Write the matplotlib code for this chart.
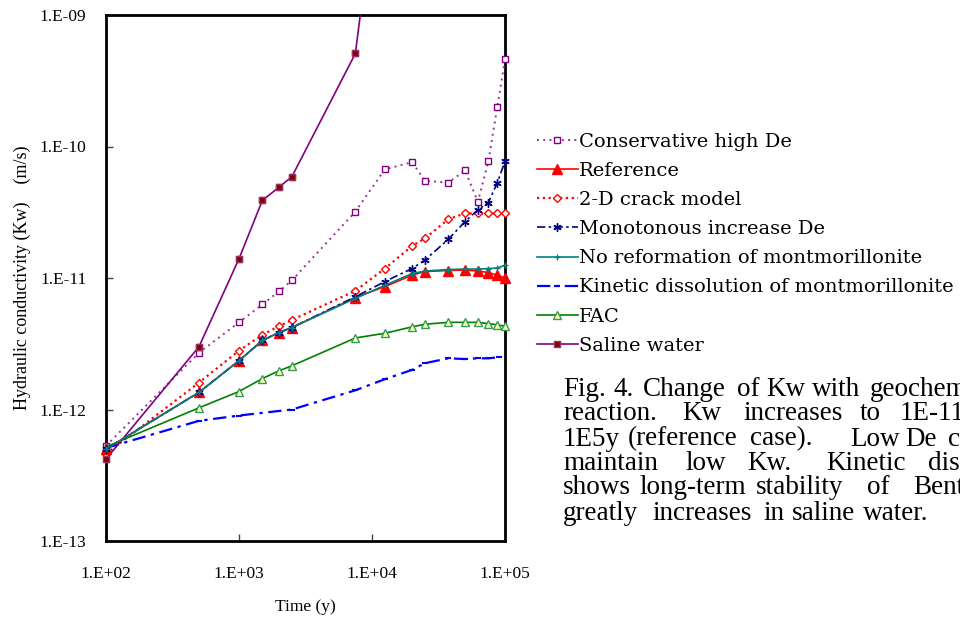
import matplotlib
matplotlib.use("Agg")
import matplotlib.pyplot as plt
import numpy as np

# time points (y)
t = [100, 500, 1000, 1500, 2000, 2500, 7500, 12500, 20000, 25000,
     37500, 50000, 62500, 75000, 87500, 100000]

conservative = [5.3e-13, 2.7e-12, 4.6e-12, 6.3e-12, 7.9e-12, 9.6e-12, 3.2e-11, 6.7e-11,
                7.6e-11, 5.5e-11, 5.3e-11, 6.6e-11, 3.8e-11, 7.7e-11, 2.0e-10, 4.6e-10]
reference = [5.0e-13, 1.35e-12, 2.35e-12, 3.35e-12, 3.85e-12, 4.2e-12, 7.1e-12, 8.6e-12,
             1.05e-11, 1.12e-11, 1.14e-11, 1.15e-11, 1.13e-11, 1.1e-11, 1.05e-11, 1.0e-11]
crack2d = [4.6e-13, 1.6e-12, 2.8e-12, 3.7e-12, 4.3e-12, 4.8e-12, 8.0e-12, 1.18e-11,
           1.75e-11, 2.0e-11, 2.8e-11, 3.1e-11, 3.1e-11, 3.1e-11, 3.1e-11, 3.1e-11]
monotonous = [5.0e-13, 1.35e-12, 2.35e-12, 3.35e-12, 3.85e-12, 4.2e-12, 7.2e-12, 9.4e-12,
              1.18e-11, 1.37e-11, 1.97e-11, 2.68e-11, 3.3e-11, 3.75e-11, 5.3e-11, 7.7e-11]
noreform = [5.0e-13, 1.35e-12, 2.35e-12, 3.35e-12, 3.85e-12, 4.2e-12, 7.0e-12, 8.8e-12,
            1.08e-11, 1.13e-11, 1.16e-11, 1.17e-11, 1.17e-11, 1.18e-11, 1.19e-11, 1.25e-11]
fac = [5.2e-13, 1.03e-12, 1.37e-12, 1.72e-12, 1.97e-12, 2.15e-12, 3.5e-12, 3.8e-12,
       4.25e-12, 4.45e-12, 4.6e-12, 4.6e-12, 4.6e-12, 4.5e-12, 4.4e-12, 4.3e-12]

t_kin = [100, 500, 1000, 2500, 7500, 12500, 20000, 25000, 37500, 50000, 62500, 75000, 90000]
kinetic = [5.1e-13, 8.2e-13, 9.0e-13, 1.0e-12, 1.4e-12, 1.7e-12, 2.0e-12, 2.25e-12,
           2.45e-12, 2.42e-12, 2.45e-12, 2.45e-12, 2.5e-12]

t_sal = [100, 500, 1000, 1500, 2000, 2500, 7500, 12500]
saline = [4.2e-13, 3.0e-12, 1.4e-11, 3.9e-11, 4.9e-11, 5.9e-11, 5.1e-10, 3.0e-8]

x_ticks = [1e2, 1e3, 1e4, 1e5]
x_ticklabels = ["1.E+02", "1.E+03", "1.E+04", "1.E+05"]
y_ticks = [1e-13, 1e-12, 1e-11, 1e-10, 1e-9]
y_ticklabels = ["1.E-13", "1.E-12", "1.E-11", "1.E-10", "1.E-09"]

# caption beside the chart (justified, cut off by the right edge)
caption = [
    ["Fig.", "4.", "Change", "of", "Kw", "with", "geochemical"],
    ["reaction.", "Kw", "increases", "to", "1E-11", "at"],
    ["1E5y", "(reference", "case).", "Low", "De", "cases"],
    ["maintain", "low", "Kw.", "Kinetic", "dissolution"],
    ["shows", "long-term", "stability", "of", "Bentonite."],
    ["greatly", "increases", "in", "saline", "water."],
]
caption_x = [
    [563, 613, 643, 737, 766, 812, 870],
    [563, 682, 743, 860, 900, 990],
    [563, 628, 750, 850, 905, 948],
    [563, 685, 747, 826, 928],
    [563, 640, 756, 867, 913],
    [563, 652, 763, 792, 863],
]
caption_y = [389, 414, 439, 463, 488, 513]

W, H = 960, 617
fig = plt.figure(figsize=(9.6, 6.17), dpi=100)
ax = fig.add_axes([106 / W, 1 - 541 / H, (505 - 106) / W, (541 - 15) / H])

serif = ["Liberation Serif", "DejaVu Serif"]

ax.plot(t, conservative, color="#993399", lw=1.4, ls=(0, (1, 2.2)),
        marker="s", ms=4.5, mfc="white", mec="#800080", mew=1.0,
        label="Conservative high De", clip_on=False, zorder=3)
ax.plot(t, reference, color="red", lw=1.2, ls="-",
        marker="^", ms=6.5, mfc="red", mec="red",
        label="Reference", clip_on=False, zorder=4)
ax.plot(t, crack2d, color="red", lw=1.6, ls=(0, (1, 1.6)),
        marker="D", ms=4, mfc="white", mec="red", mew=1.0,
        label="2-D crack model", clip_on=False, zorder=3)
ax.plot(t, monotonous, color="#000080", lw=1.2, ls=(0, (5, 2, 1.5, 2)),
        marker=(6, 2, 0), ms=6, mec="#000080", mew=1.0,
        label="Monotonous increase De", clip_on=False, zorder=5)
ax.plot(t, noreform, color="#008080", lw=1.2, ls="-",
        marker="+", ms=5, mec="#008080", mew=1.0,
        label="No reformation of montmorillonite", clip_on=False, zorder=5)
ax.plot(t_kin, kinetic, color="#0000FF", lw=1.6, ls=(0, (6, 2.5, 1.5, 2.5)),
        marker="_", ms=4, mec="#0000FF", mew=1.5,
        label="Kinetic dissolution of montmorillonite", clip_on=False, zorder=3)
ax.plot(t, fac, color="#008000", lw=1.2, ls="-",
        marker="^", ms=5.5, mfc="#FFFF99", mec="#339966", mew=1.0,
        label="FAC", clip_on=False, zorder=3)
ax.plot(t_sal, saline, color="#800080", lw=1.2, ls="-",
        marker="s", ms=4.5, mfc="#800000", mec="#993366",
        label="Saline water", zorder=3)
# in-range saline markers drawn unclipped at the axes edge
ax.plot(t_sal[:-1], saline[:-1], ls="none", marker="s", ms=4.5,
        mfc="#800000", mec="#993366", clip_on=False, zorder=3)

ax.set_xscale("log")
ax.set_yscale("log")
ax.set_xlim(1e2, 1e5)
ax.set_ylim(1e-13, 1e-9)
ax.set_xticks(x_ticks)
ax.set_xticklabels(x_ticklabels)
ax.set_yticks(y_ticks)
ax.set_yticklabels(y_ticklabels)
ax.minorticks_off()
ax.tick_params(axis="both", direction="in", length=5, width=1, color="#444444")
ax.tick_params(axis="x", pad=18)
ax.tick_params(axis="y", pad=14)
for lab in ax.get_xticklabels() + ax.get_yticklabels():
    lab.set_fontfamily(serif)
    lab.set_fontsize(12.5)
for sp in ax.spines.values():
    sp.set_linewidth(2)
    sp.set_color("black")

ax.set_xlabel("Time (y)", fontsize=12.5, family=serif, labelpad=12)
ax.set_ylabel("Hydraulic conductivity (Kw)    (m/s)", fontsize=13, family=serif, labelpad=6)

leg = fig.legend(loc="upper left", bbox_to_anchor=(537 / W, 1 - 133 / H),
                 frameon=False, handlelength=2.1, handletextpad=0.05,
                 labelspacing=0.57, borderpad=0, borderaxespad=0,
                 prop={"family": "DejaVu Serif", "size": 14})

for words, xs, y in zip(caption, caption_x, caption_y):
    for w, x in zip(words, xs):
        fig.text(x / W, 1 - y / H, w, fontsize=19.5, family=serif,
                 ha="left", va="center")

fig.savefig("out.png", dpi=100)
